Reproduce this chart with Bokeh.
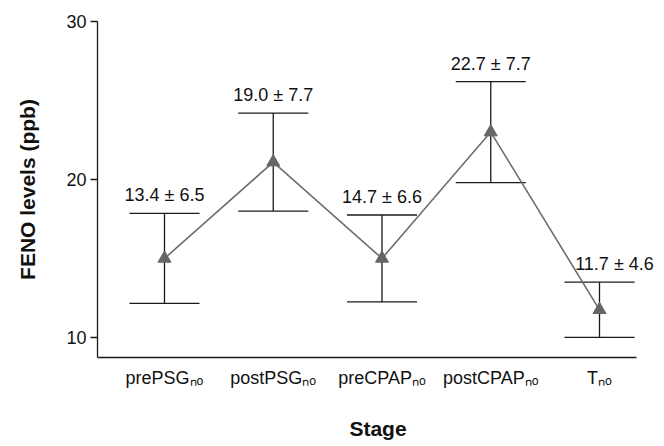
from bokeh.plotting import figure
from bokeh.models import Range1d, FixedTicker, ColumnDataSource, Whisker, TeeHead, LabelSet
from bokeh.embed import file_html
from bokeh.resources import INLINE
from bokeh.core.properties import value

# ---- data ----
stages = ["prePSGₙₒ", "postPSGₙₒ", "preCPAPₙₒ", "postCPAPₙₒ", "Tₙₒ"]
stage_pos = [0, 1, 2, 3, 4]
means = [15.0, 21.1, 15.0, 23.0, 11.75]
errors = [2.85, 3.1, 2.75, 3.2, 1.75]
annotations = ["13.4 ± 6.5", "19.0 ± 7.7", "14.7 ± 6.6", "22.7 ± 7.7", "11.7 ± 4.6"]
y_ticks = [10, 20, 30]

FONT = "Liberation Sans"
TITLE_FONT = "Liberation Sans"

# the last annotation sits a little to the right of its bar (layout nudge, px)
label_nudge = [0, 0, 0, 0, 15]

src = ColumnDataSource(data=dict(
    x=stage_pos,
    y=means,
    upper=[m + e for m, e in zip(means, errors)],
    lower=[m - e for m, e in zip(means, errors)],
    label=annotations,
    dx=label_nudge,
))

p = figure(width=664, height=446, output_backend="svg", toolbar_location=None,
           x_range=Range1d(-0.616, 4.5425), y_range=Range1d(8.73, 30),
           min_border_left=97, min_border_right=6, min_border_top=21, min_border_bottom=89)
p.outline_line_color = None
p.grid.visible = False
p.background_fill_color = "white"

# error bars
wh = Whisker(base="x", upper="upper", lower="lower", source=src, level="underlay",
             line_color="#1a1a1a", line_width=1.3,
             upper_head=TeeHead(size=70, line_color="#1a1a1a", line_width=1.3),
             lower_head=TeeHead(size=70, line_color="#1a1a1a", line_width=1.3))
p.add_layout(wh)

p.line("x", "y", source=src, line_color="#6e6e6e", line_width=1.6)
p.scatter("x", "y", source=src, marker="triangle", size=13,
          fill_color="#666666", line_color="#666666")

labels = LabelSet(x="x", y="upper", text="label", source=src, text_align="center",
                  text_baseline="bottom", y_offset=8, x_offset="dx",
                  text_font=value(FONT), text_font_size=value("18px"), text_color="#111111")
p.add_layout(labels)

# axes
p.yaxis.ticker = FixedTicker(ticks=y_ticks, minor_ticks=[])
p.yaxis.major_tick_in = 0
p.yaxis.major_tick_out = 7
p.yaxis.minor_tick_out = 0
p.yaxis.major_label_standoff = 4
p.yaxis.major_label_text_font = FONT
p.yaxis.major_label_text_font_size = "18px"
p.yaxis.major_label_text_color = "#111111"
p.yaxis.axis_label = "FENO levels (ppb)"
p.yaxis.axis_label_text_font = TITLE_FONT
p.yaxis.axis_label_text_font_style = "bold"
p.yaxis.axis_label_text_font_size = "21px"
p.yaxis.axis_label_text_color = "#111111"
p.yaxis.axis_label_standoff = 24

p.xaxis.ticker = FixedTicker(ticks=stage_pos, minor_ticks=[])
p.xaxis.bounds = (-0.616, 4.34)
p.xaxis.major_label_overrides = {i: s for i, s in zip(stage_pos, stages)}
p.xaxis.major_tick_in = 0
p.xaxis.major_tick_out = 0
p.xaxis.minor_tick_out = 0
p.xaxis.major_label_standoff = 10
p.xaxis.major_label_text_font = FONT
p.xaxis.major_label_text_font_size = "18px"
p.xaxis.major_label_text_color = "#111111"
p.xaxis.axis_label = "Stage"
p.xaxis.axis_label_text_font = TITLE_FONT
p.xaxis.axis_label_text_font_style = "bold"
p.xaxis.axis_label_text_font_size = "21px"
p.xaxis.axis_label_text_color = "#111111"
p.xaxis.axis_label_standoff = 26

for ax in (p.xaxis, p.yaxis):
    ax.axis_line_color = "#1a1a1a"
    ax.axis_line_width = 1.3
    ax.major_tick_line_color = "#1a1a1a"
    ax.major_tick_line_width = 1.3

open("out.html", "w").write(file_html(p, INLINE))
